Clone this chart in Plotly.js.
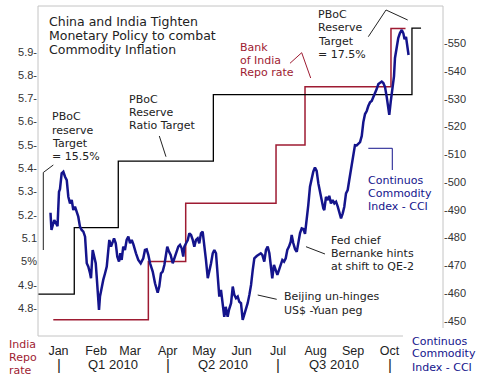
<!DOCTYPE html>
<html><head><meta charset="utf-8">
<script src="https://cdn.plot.ly/plotly-3.0.1.min.js"></script>
<style>html,body{margin:0;padding:0;background:#fff}#chart{width:483px;height:379px}</style>
</head><body><div id="chart"></div>
<script>
// ---- data (x = days since 2010-01-01) ----
const cciDay = [-6.6,-5.8,-3.5,-0.8,0.4,1.2,2.6,4.0,5.4,6.8,8.1,9.5,10.9,12.2,13.6,15.0,16.3,17.7,19.1,20.5,21.9,23.3,24.6,26.0,26.8,28.2,29.5,30.7,31.5,32.3,33.4,34.2,35.6,36.9,38.4,39.8,41.1,41.9,43.3,44.7,45.8,47.2,48.5,49.9,51.0,52.1,53.4,54.8,56.2,57.6,59.0,60.4,61.7,63.9,65.8,67.8,69.9,71.3,72.7,74.1,75.5,77.7,79.6,81.8,83.1,84.5,85.9,87.3,88.7,89.7,91.1,92.5,94.2,95.5,97.5,98.8,100.2,101.6,102.9,103.8,105.2,106.6,107.9,109.3,110.7,112.0,113.4,114.8,116.1,117.5,118.9,120.2,121.6,123.1,124.4,125.8,127.2,128.5,129.9,131.3,132.6,134.0,135.1,136.7,137.9,139.5,140.6,142.3,143.7,145.0,146.4,147.8,149.1,150.5,151.9,153.2,154.6,156.0,157.4,158.8,160.2,161.5,163.5,164.8,166.8,168.1,169.7,171.1,172.5,173.9,175.3,176.3,177.7,179.1,180.5,181.9,183.3,184.6,186.0,187.4,188.7,190.1,191.5,192.3,193.6,195.1,196.5,197.8,199.2,200.6,201.9,203.3,204.7,206.0,207.4,208.8,210.1,211.5,212.9,214.3,215.7,217.1,218.4,219.2,220.6,222.0,223.3,224.7,226.1,227.5,228.9,230.3,231.6,233.0,234.4,235.7,237.1,238.5,239.8,241.8,243.1,244.5,245.9,247.3,248.7,250.1,251.4,252.8,254.2,255.5,256.9,258.3,259.6,261.0,262.4,263.8,265.2,266.6,267.9,269.3,270.7,272.0,272.8,274.0,275.1,276.7,277.5,278.9,280.2,281.6,283.1,284.4,285.4,286.6,287.6,288.7];
const cciVal = [488.9,482.7,486.3,484.1,496.5,497.4,503.1,503.7,501.9,500.7,494.7,492.3,493.5,489.9,491.1,489.3,487.5,483.9,482.7,482.1,480.3,470.7,469.5,467.1,465.3,475.5,473.1,470.7,465.9,461.1,453.9,458.7,462.3,464.7,467.1,469.5,475.5,479.1,476.7,478.5,479.7,477.9,473.1,471.3,474.3,471.9,476.7,475.5,479.1,480.3,477.9,479.1,477.6,474.3,471.9,470.7,472.5,475.5,475.7,473.7,470.7,467.7,463.5,460.1,462.3,467.1,467.7,470.1,474.3,476.7,474.9,473.7,470.7,472.5,475.5,476.7,477.3,476.1,473.1,476.7,477.9,479.1,481.5,480.9,479.1,476.7,479.1,479.7,477.9,481.5,482.1,477.9,471.9,465.3,467.7,470.7,474.3,475.5,474.3,464.0,458.7,461.1,457.5,451.4,455.0,451.4,453.9,456.3,462.3,459.3,458.1,458.7,456.8,456.3,450.3,452.1,453.9,456.3,459.3,462.9,468.3,472.5,473.3,473.7,474.3,473.7,471.3,475.5,476.7,474.3,469.5,465.3,470.1,468.3,466.5,468.3,470.1,471.9,471.3,472.5,475.5,476.7,478.5,480.9,478.0,475.8,474.8,477.9,481.6,483.3,483.1,481.3,485.7,491.7,498.3,501.6,503.7,505.2,504.0,499.5,495.9,493.2,490.5,489.9,494.6,493.5,495.0,492.3,493.5,492.3,492.9,491.1,488.7,486.9,488.7,491.1,495.9,497.1,500.7,506.1,510.6,513.3,513.2,513.7,514.4,516.6,521.6,524.5,525.6,527.4,528.7,529.2,530.5,531.7,533.5,535.3,535.7,536.2,535.7,534.2,530.6,526.7,524.2,529.0,533.2,538.2,544.7,549.4,551.9,553.7,554.8,553.6,551.5,552.3,549.4,545.8];
const repoDay = [-4.3, 74.1, 104.9, 179.4, 203.3, 274.2, 286.2];
const repoRate = [4.75, 5.0, 5.25, 5.5, 5.75, 6.0, 6.0];
const rrrDay = [-17, 13.0, 49.3, 127.7, 291.5, 299.0];
const rrrRate = [15.5, 16.0, 16.5, 17.0, 17.5, 17.5];
const monthDay = [0, 31, 59, 90, 120, 151, 181, 212, 243, 273];
const monthLabels = ['Jan','Feb','Mar','Apr','May','Jun','Jul','Aug','Sep','Oct'];
const quarterStart = [0, 90, 181, 273];
const quarterMid = [45, 135.5, 227];
const quarterLabels = ['Q1 2010','Q2 2010','Q3 2010'];
const leftTickVals = [4.8, 4.9, 5.0, 5.1, 5.2, 5.3, 5.4, 5.5, 5.6, 5.7, 5.8, 5.9];
const leftTickText = ['4.8-','4.9-','5%','5.1','5.2-','5.3-','5.4-','5.5-','5.6-','5.7-','5.8-','5.9-'];
const rightTickVals = [450, 460, 470, 480, 490, 500, 510, 520, 530, 540, 550];
const rightTickText = rightTickVals.map(v => '-' + v);

// ---- layout helpers (pixel -> paper) ----
const W = 483, H = 379, L = 38, R = 443, T = 6, B = 336;
const px = x => (x - L) / (R - L);
const py = y => (B - y) / (B - T);
const BLUE = '#14148c', RED = '#9e1b32', INK = '#222222';
const ANN_FONT = 'DejaVu Sans, Verdana, sans-serif';
const TICK_FAMILY = 'Liberation Sans, Arial, sans-serif';

const textBlocks = [
  {x: 47.3, ys: [22, 35.7, 49.3], lines: ['China and India Tighten','Monetary Policy to combat','Commodity Inflation'], color: INK, size: 12.5},
  {x: 50, ys: [117, 130.5, 143.5, 157], lines: ['PBoC','reserve','Target','= 15.5%'], color: INK, size: 11},
  {x: 127.3, ys: [99.3, 112.3, 125], lines: ['PBoC','Reserve','Ratio Target'], color: INK, size: 11},
  {x: 238.3, ys: [47, 60, 73], lines: ['Bank','of India','Repo rate'], color: RED, size: 11},
  {x: 316, ys: [15, 28, 41, 54], lines: ['PBoC','Reserve','Target','= 17.5%'], color: INK, size: 11},
  {x: 366, ys: [180, 193, 206.7], lines: ['Continuos','Commodity','Index - CCI'], color: BLUE, size: 11},
  {x: 329.3, ys: [240, 253.3, 266.7], lines: ['Fed chief','Bernanke hints','at shift to QE-2'], color: INK, size: 11},
  {x: 281.7, ys: [296.5, 310], lines: ['Beijing un-hinges','US$ -Yuan peg'], color: INK, size: 11},
  {x: 7.3, ys: [344, 357.3, 370], lines: ['India','Repo','rate'], color: RED, size: 11},
  {x: 410, ys: [341, 354, 367], lines: ['Continuos','Commodity','Index - CCI'], color: BLUE, size: 11}
];
const annotations = [];
textBlocks.forEach(b => b.lines.forEach((t, i) => annotations.push({
  text: t, xref: 'paper', yref: 'paper', x: px(b.x), y: py(b.ys[i]),
  xanchor: 'left', yanchor: 'middle', showarrow: false,
  font: {family: ANN_FONT, size: b.size, color: b.color}
})));
quarterStart.forEach(d => annotations.push({
  text: '|', xref: 'x', yref: 'paper', x: d, y: py(364.5), xanchor: 'center', yanchor: 'middle',
  showarrow: false, font: {family: TICK_FAMILY, size: 15, color: INK}
}));
quarterLabels.forEach((t, i) => annotations.push({
  text: t, xref: 'x', yref: 'paper', x: quarterMid[i], y: py(364.3), xanchor: 'center', yanchor: 'middle',
  showarrow: false, font: {family: TICK_FAMILY, size: 13, color: INK}
}));

const pathOf = pts => pts.map((p, i) => (i ? 'L' : 'M') + px(p[0]).toFixed(4) + ',' + py(p[1]).toFixed(4)).join(' ');
const connector = (pts, color) => ({type: 'path', xref: 'paper', yref: 'paper', path: pathOf(pts), line: {color: color, width: 1}});
const FRAME = '#c4c4c4';
const shapes = [
  connector([[38,336],[38,6],[443,6],[443,328]], FRAME),
  connector([[38,336],[403,336]], FRAME),
  connector([[53.3,165],[43.3,172.5],[43.3,250]], INK),
  connector([[159.3,136],[166,156.7]], INK),
  connector([[290,63.3],[301.7,52.7],[310.7,78]], RED),
  connector([[368.3,36.7],[386,10],[407.7,20]], INK),
  connector([[368.3,148.3],[392.3,148.3],[392.3,170]], BLUE),
  connector([[306,246.7],[325,254]], INK),
  connector([[257.7,295],[276.7,299.3]], INK)
];

const traces = [
  {x: repoDay, y: repoRate, type: 'scatter', mode: 'lines', line: {color: RED, width: 1.5, shape: 'hv'}, yaxis: 'y', hoverinfo: 'skip'},
  {x: rrrDay, y: rrrRate, type: 'scatter', mode: 'lines', line: {color: '#000000', width: 1.3, shape: 'hv'}, yaxis: 'y2', hoverinfo: 'skip'},
  {x: cciDay, y: cciVal, type: 'scatter', mode: 'lines', line: {color: BLUE, width: 2.5}, yaxis: 'y3', hoverinfo: 'skip'}
];

const tickFont = {family: TICK_FAMILY, size: 11, color: '#333333'};
const layout = {
  width: W, height: H, showlegend: false,
  margin: {l: L, r: W - R, t: T, b: H - B, pad: 0},
  paper_bgcolor: '#ffffff', plot_bgcolor: '#ffffff',
  xaxis: {range: [-16.91, 317.1], tickvals: monthDay, ticktext: monthLabels, ticks: '', showgrid: false, zeroline: false,
          showline: false, ticklabelstandoff: 5, tickfont: {family: TICK_FAMILY, size: 12.5, color: INK}},
  yaxis: {range: [4.6798, 6.0961], tickvals: leftTickVals, ticktext: leftTickText, ticks: '', showgrid: false,
          zeroline: false, showline: false, tickfont: tickFont},
  yaxis2: {range: [15.185, 17.666], overlaying: 'y', visible: false, showgrid: false, zeroline: false},
  yaxis3: {range: [444.48, 563.45], overlaying: 'y', side: 'right', tickvals: rightTickVals, ticktext: rightTickText,
           ticks: '', showgrid: false, zeroline: false, showline: false, tickfont: tickFont},
  annotations: annotations, shapes: shapes
};
Plotly.newPlot('chart', traces, layout, {staticPlot: true, displayModeBar: false});
</script></body></html>
